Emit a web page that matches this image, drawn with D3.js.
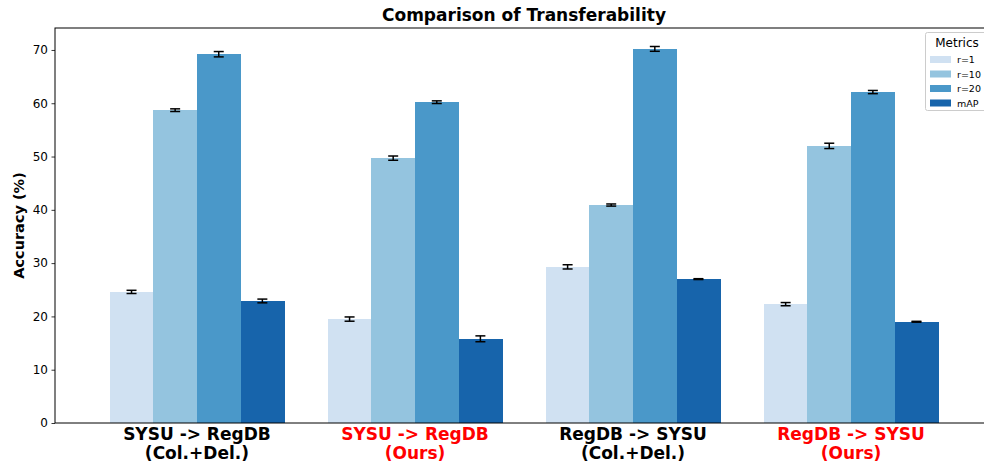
<!DOCTYPE html>
<html><head><meta charset="utf-8">
<script src="https://cdn.jsdelivr.net/npm/d3@7"></script>
<style>body{margin:0;background:#fff;} svg{display:block;font-family:"DejaVu Sans",sans-serif;}</style>
</head><body>
<svg id="c" width="984" height="464"></svg>
<script>
const categories = [["SYSU -> RegDB","(Col.+Del.)"],["SYSU -> RegDB","(Ours)"],["RegDB -> SYSU","(Col.+Del.)"],["RegDB -> SYSU","(Ours)"]];
const categoryColors = ["#000000","#ff0000","#000000","#ff0000"];
const metrics = ["r=1","r=10","r=20","mAP"];
const metricColors = ["#d0e1f2","#94c4df","#4a98c9","#1764ab"];
const r1 = [24.6, 19.5, 29.3, 22.3];
const r10 = [58.7, 49.7, 40.9, 52.0];
const r20 = [69.2, 60.2, 70.2, 62.1];
const mAP = [22.9, 15.8, 27.0, 19.0];
const r1Err = [0.3, 0.4, 0.4, 0.3];
const r10Err = [0.25, 0.4, 0.2, 0.5];
const r20Err = [0.5, 0.25, 0.45, 0.3];
const mAPErr = [0.35, 0.55, 0.08, 0.08];
const yTicks = [0,10,20,30,40,50,60,70];

const values = [r1, r10, r20, mAP];
const errs = [r1Err, r10Err, r20Err, mAPErr];

const svg = d3.select("#c");
const L = 55, R = 993, T = 28, B = 423;
const x = d3.scaleLinear().domain([-0.651, 3.651]).range([L, R]);
const y = d3.scaleLinear().domain([0, 74.12]).range([B, T]);
const bw = 0.2;

// bars
metrics.forEach((m, j) => {
  const g = svg.append("g").attr("shape-rendering", "crispEdges");
  g.selectAll("rect").data(values[j]).join("rect")
    .attr("x", (d,i) => x(i + (j-1.5)*bw - bw/2))
    .attr("width", x(bw) - x(0) + 0.5)
    .attr("y", d => y(d))
    .attr("height", d => y(0) - y(d))
    .attr("fill", metricColors[j]);
});
// error bars
metrics.forEach((m, j) => {
  values[j].forEach((v, i) => {
    const cx = x(i + (j-1.5)*bw);
    const e = errs[j][i];
    const g = svg.append("g").attr("stroke", "#000").attr("stroke-width", 1.5);
    g.append("line").attr("x1", cx).attr("x2", cx).attr("y1", y(v-e)).attr("y2", y(v+e));
    g.append("line").attr("x1", cx-5).attr("x2", cx+5).attr("y1", y(v-e)).attr("y2", y(v-e));
    g.append("line").attr("x1", cx-5).attr("x2", cx+5).attr("y1", y(v+e)).attr("y2", y(v+e));
  });
});

// axes
const ya = svg.append("g").attr("transform", `translate(${L},0)`)
  .call(d3.axisLeft(y).tickValues(yTicks).tickSize(3.5).tickPadding(3.5));
ya.select(".domain").remove();
ya.selectAll("text").attr("font-size", 12).attr("font-family", "DejaVu Sans").attr("fill", "#000");
ya.selectAll("line").attr("stroke", "#000").attr("stroke-width", 0.8);

const xa = svg.append("g").attr("transform", `translate(0,${B})`)
  .call(d3.axisBottom(x).tickValues([0,1,2,3]).tickSize(0).tickFormat(""));
xa.select(".domain").remove();
categories.forEach((c, i) => {
  const t = svg.append("text").attr("x", x(i)).attr("text-anchor", "middle")
    .attr("font-size", 17).attr("font-weight", "bold").attr("fill", categoryColors[i]);
  t.append("tspan").attr("x", x(i)).attr("y", 440).text(c[0]);
  t.append("tspan").attr("x", x(i)).attr("y", 459).text(c[1]);
});

// frame
svg.append("rect").attr("x", L).attr("y", T).attr("width", R-L).attr("height", B-T)
  .attr("fill", "none").attr("stroke", "#000").attr("stroke-width", 1);

// title & ylabel
svg.append("text").attr("x", (L+R)/2).attr("y", 21).attr("text-anchor", "middle")
  .attr("font-size", 17).attr("font-weight", "bold").text("Comparison of Transferability");
svg.append("text").attr("transform", `translate(24,${(T+B)/2}) rotate(-90)`).attr("text-anchor", "middle")
  .attr("font-size", 14.5).attr("font-weight", "bold").text("Accuracy (%)");

// legend
const lg = svg.append("g");
lg.append("rect").attr("x", 925.5).attr("y", 32.5).attr("width", 70).attr("height", 78).attr("rx", 2)
  .attr("fill", "#fff").attr("fill-opacity", 0.8).attr("stroke", "#ccc");
lg.append("text").attr("x", 957).attr("y", 47).attr("text-anchor", "middle").attr("font-size", 12).text("Metrics");
metrics.forEach((m, j) => {
  const yy = 56 + j*14.5;
  lg.append("rect").attr("x", 930).attr("y", yy).attr("width", 21).attr("height", 7).attr("fill", metricColors[j]);
  lg.append("text").attr("x", 957).attr("y", yy+7).attr("font-size", 9.5).text(m);
});
</script>
</body></html>
